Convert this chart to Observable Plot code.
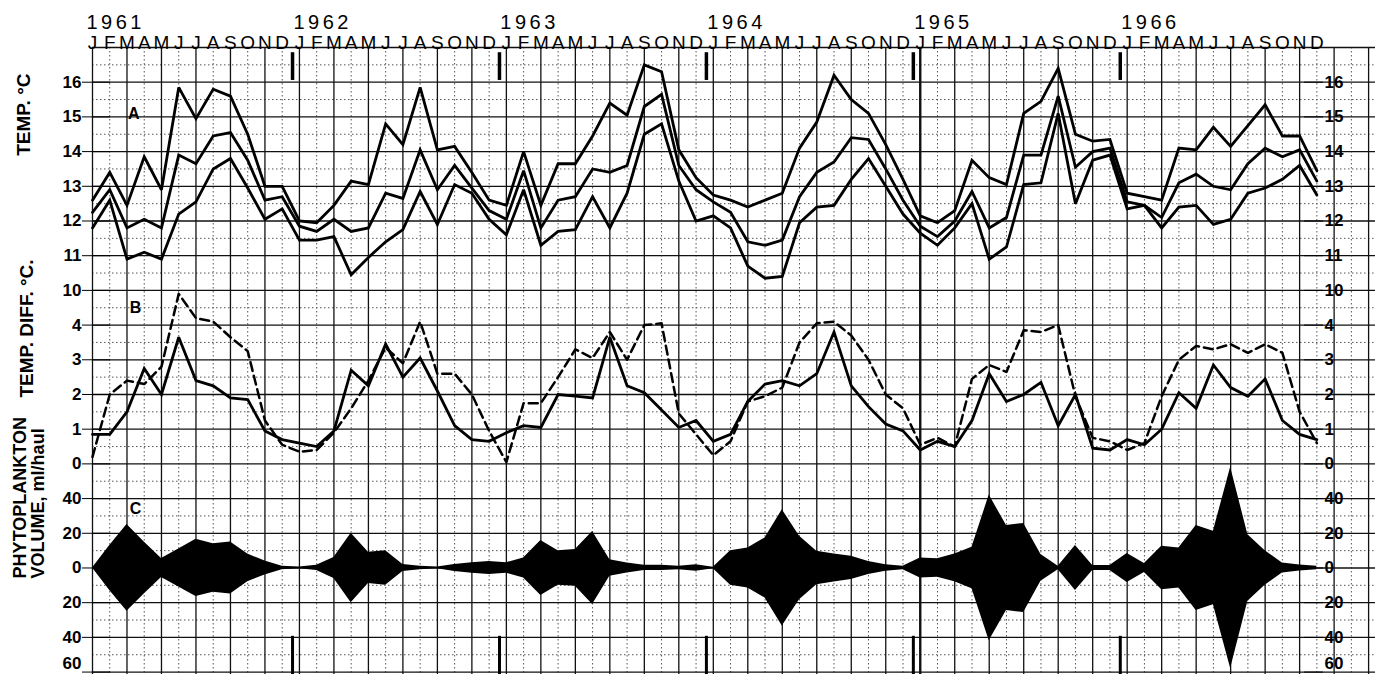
<!DOCTYPE html>
<html><head><meta charset="utf-8">
<script src="https://cdn.jsdelivr.net/npm/d3@7"></script>
<script src="https://cdn.jsdelivr.net/npm/@observablehq/plot@0.6"></script>
<style>
html,body{margin:0;padding:0;background:#fff;}
#chart{width:1375px;height:674px;overflow:hidden;}
</style></head><body><div id="chart"></div>
<script>
// ---- data ----
const monthLetters = ["J","F","M","A","M","J","J","A","S","O","N","D"];
const years = [1961, 1962, 1963, 1964, 1965, 1966];

// Panel A: temperature °C, three series (upper, middle, lower)
const tempTop = [
  12.6, 13.4, 12.45, 13.85, 12.9, 15.85, 14.95, 15.8, 15.6, 14.5, 13.0, 13.0,
  12.0, 11.95, 12.45, 13.15, 13.05, 14.8, 14.2, 15.85, 14.05, 14.15, 13.4, 12.6,
  12.45, 14.0, 12.45, 13.65, 13.65, 14.45, 15.4, 15.05, 16.5, 16.3, 14.05, 13.25,
  12.75, 12.6, 12.4, 12.6, 12.8, 14.1, 14.85, 16.2, 15.5, 15.1, 14.2, 13.2,
  12.15, 11.95, 12.3, 13.75, 13.25, 13.05, 15.1, 15.45, 16.4, 14.5, 14.3, 14.35,
  12.8, 12.7, 12.6, 14.1, 14.05, 14.7, 14.15, 14.75, 15.35, 14.45, 14.45, 13.45
];
const tempMid = [
  12.25, 12.9, 11.8, 12.05, 11.8, 13.9, 13.65, 14.45, 14.55, 13.75, 12.6, 12.7,
  11.85, 11.7, 12.05, 11.7, 11.8, 12.8, 12.65, 14.05, 12.9, 13.6, 12.95, 12.3,
  12.05, 13.45, 11.8, 12.6, 12.7, 13.5, 13.4, 13.6, 15.3, 15.65, 13.6, 12.9,
  12.55, 12.25, 11.4, 11.3, 11.45, 12.7, 13.4, 13.7, 14.4, 14.35, 13.5, 12.6,
  11.85, 11.55, 12.0, 12.85, 11.8, 12.1, 13.9, 13.9, 15.6, 13.55, 14.0, 14.1,
  12.55, 12.45, 12.1, 13.1, 13.35, 13.0, 12.9, 13.65, 14.1, 13.85, 14.05, 13.15
];
const tempLow = [
  11.8, 12.6, 10.9, 11.1, 10.9, 12.2, 12.55, 13.5, 13.8, 12.95, 12.05, 12.35,
  11.45, 11.45, 11.55, 10.45, 10.95, 11.4, 11.75, 12.85, 11.9, 13.05, 12.8, 12.05,
  11.6, 12.9, 11.3, 11.7, 11.75, 12.7, 11.8, 12.8, 14.5, 14.8, 13.15, 12.0,
  12.15, 11.8, 10.7, 10.35, 10.4, 11.95, 12.4, 12.45, 13.2, 13.8, 13.0, 12.2,
  11.65, 11.3, 11.8, 12.5, 10.9, 11.25, 13.05, 13.1, 15.1, 12.5, 13.75, 13.9,
  12.35, 12.45, 11.8, 12.4, 12.45, 11.9, 12.05, 12.8, 12.95, 13.2, 13.6, 12.75
];
// Panel B: temperature difference °C (solid and dashed)
const diffSolid = [
  0.85, 0.85, 1.5, 2.75, 2.0, 3.65, 2.4, 2.25, 1.9, 1.85, 0.95, 0.7,
  0.6, 0.5, 0.95, 2.7, 2.25, 3.45, 2.5, 3.05, 2.1, 1.1, 0.7, 0.65,
  0.9, 1.1, 1.05, 2.0, 1.95, 1.9, 3.65, 2.25, 2.05, 1.55, 1.05, 1.25,
  0.65, 0.85, 1.8, 2.3, 2.4, 2.25, 2.6, 3.8, 2.25, 1.65, 1.15, 0.95,
  0.4, 0.65, 0.5, 1.25, 2.6, 1.8, 2.0, 2.35, 1.1, 2.0, 0.45, 0.4,
  0.7, 0.55, 1.0, 2.05, 1.6, 2.85, 2.2, 1.95, 2.45, 1.25, 0.85, 0.7
];
const diffDashed = [
  0.2, 2.0, 2.4, 2.3, 2.8, 4.9, 4.2, 4.1, 3.65, 3.25, 1.25, 0.55,
  0.35, 0.4, 0.9, 1.6, 2.4, 3.35, 2.9, 4.1, 2.6, 2.6, 2.0, 0.95,
  0.05, 1.75, 1.75, 2.5, 3.3, 3.05, 3.8, 3.0, 4.0, 4.05, 1.45, 0.85,
  0.25, 0.65, 1.8, 1.95, 2.2, 3.5, 4.05, 4.1, 3.7, 3.0, 2.0, 1.6,
  0.55, 0.75, 0.5, 2.45, 2.85, 2.65, 3.85, 3.8, 4.0, 1.95, 0.75, 0.65,
  0.4, 0.6, 1.95, 3.0, 3.4, 3.3, 3.45, 3.2, 3.45, 3.2, 1.5, 0.6
];
// Panel C: phytoplankton volume, ml/haul (drawn symmetrically as a kite)
const phyto = [
  0, 13, 25, 15, 5.5, 11, 16.5, 14, 15, 8, 4, 1,
  0.5, 1.5, 6, 20, 9, 10, 2, 1, 0.5, 2, 3, 3.8,
  3, 5.8, 15.8, 10, 10.6, 21, 4.8, 2.9, 1.5, 1.5, 1, 1.9,
  0.4, 10, 11.5, 17.3, 33.5, 18.3, 9.6, 8.1, 6.7, 3.8, 1.9, 1,
  5.8, 5.3, 8, 12, 42, 24.5, 25.7, 7.7, 1, 13, 1.4, 1.4,
  8.4, 2.6, 12.5, 11.5, 24.5, 21.2, 58, 19.2, 10, 2.9, 1.7, 1
];
const tempTicks = [10, 11, 12, 13, 14, 15, 16];
const diffTicks = [0, 1, 2, 3, 4];
const phytoTicks = [40, 20, 0, -20, -40, -60];
const phytoEdgeLabel = [-60];
const yearBreaks = [11.6, 23.6, 35.6, 47.6, 59.6];

// ---- shared vertical unit: panel B as is, A shifted by 5 °C, C scaled 20 ml per unit around -3 ----
const toA = t => t - 5;
const toC = p => -3 + p / 20;
const fromC = v => String(Math.round(Math.abs((v + 3) * 20)));
const fromCInner = v => (Math.abs(v - toC(-60)) < 1e-6 ? "" : fromC(v));
const monthIndex = d3.range(72);
const rows = monthIndex.map(i => ({
  m: i,
  top: toA(tempTop[i]), mid: toA(tempMid[i]), low: toA(tempLow[i]),
  ds: diffSolid[i], dd: diffDashed[i],
  p1: toC(-phyto[i]), p2: toC(phyto[i])
}));

const FONT = "'Liberation Sans', Arial, Helvetica, sans-serif";
const majorV = d3.range(0, 75, 2);
const minorV = d3.range(1, 75, 2);
const majorH = d3.range(-6, 13, 1);
const minorH = d3.range(-5.5, 12, 1);

const yl = {fontSize: 17, fontWeight: "bold", fill: "black", anchor: "left", dx: 18, tickSize: 28, tickPadding: 1};
const yr = {fontSize: 17, fontWeight: "bold", fill: "black", anchor: "right", dx: -72, tickSize: 19, tickPadding: 2};
const lineOpts = {x: "m", stroke: "black", strokeWidth: 2.8, strokeLinejoin: "miter", strokeMiterlimit: 3};

const chart = Plot.plot({
  width: 1375, height: 674,
  marginLeft: 92, marginRight: 0, marginTop: 47, marginBottom: 0,
  x: {type: "linear", domain: [0, 74.4]},
  y: {type: "linear", domain: [-6.07, 12]},
  style: {background: "white", fontFamily: FONT, color: "black", overflow: "visible", fontSize: "17px"},
  marks: [
    // graph paper
    Plot.ruleX(minorV, {stroke: "#555", strokeWidth: 1, strokeDasharray: "1.5,2.5"}),
    Plot.ruleY(minorH, {stroke: "#555", strokeWidth: 1, strokeDasharray: "1.5,2.5"}),
    Plot.ruleX(majorV, {stroke: "#111", strokeWidth: d => d === 48 ? 2.4 : 1.3}),
    Plot.ruleY(majorH, {stroke: "#111", strokeWidth: 1.3}),
    // year break markers
    Plot.ruleX(yearBreaks, {y1: 11.05, y2: 11.85, stroke: "black", strokeWidth: 3.5}),
    Plot.ruleX(yearBreaks, {y1: -6.07, y2: -4.97, stroke: "black", strokeWidth: 3}),
    // panel C kite
    Plot.areaY(rows, {x: "m", y1: "p1", y2: "p2", fill: "black", curve: "linear"}),
    // panel A
    Plot.line(rows, {...lineOpts, y: "top"}),
    Plot.line(rows, {...lineOpts, y: "mid"}),
    Plot.line(rows, {...lineOpts, y: "low"}),
    // panel B
    Plot.line(rows, {...lineOpts, y: "ds"}),
    Plot.line(rows, {x: "m", y: "dd", stroke: "black", strokeWidth: 2.5, strokeDasharray: "9,5"}),
    // left axes
    Plot.axisY(tempTicks.map(toA), {...yl, tickFormat: v => String(v + 5)}),
    Plot.axisY(diffTicks, {...yl, tickFormat: v => String(v)}),
    Plot.axisY(phytoTicks.map(toC), {...yl, tickFormat: fromCInner}),
    Plot.axisY(phytoEdgeLabel.map(toC), {...yl, tickSize: 0, tickPadding: 29, tickFormat: fromC, dy: -9}),
    // right axes
    Plot.axisY(tempTicks.map(toA), {...yr, tickFormat: v => String(v + 5)}),
    Plot.axisY(diffTicks, {...yr, tickFormat: v => String(v)}),
    Plot.axisY(phytoTicks.map(toC), {...yr, tickFormat: fromCInner}),
    Plot.axisY(phytoEdgeLabel.map(toC), {...yr, tickSize: 0, tickPadding: 21, tickFormat: fromC, dy: -9}),
    // top axes: month letters and years
    Plot.axisX(monthIndex, {anchor: "top", tickSize: 0, tickPadding: -1, fontSize: 19, tickFormat: i => monthLetters[i % 12], fill: "black"}),
    Plot.axisX(years.map((y, k) => k * 12), {anchor: "top", tickSize: 0, tickPadding: 19, fontSize: 20, textAnchor: "start", dx: -6, tickFormat: i => String(years[i / 12]), fill: "black"}),
    // panel letters
    Plot.text([{t: "A", x: 2.4, y: 10.1}, {t: "B", x: 2.5, y: 4.5}, {t: "C", x: 2.5, y: -1.3}],
      {x: "x", y: "y", text: "t", fontSize: 16, fontWeight: "bold", fill: "black"}),
    // axis titles (rotated)
    Plot.text(["TEMP. °C"], {frameAnchor: "left", y: () => 8.88, dx: -69, rotate: -90, fontSize: 19, fontWeight: "bold", fill: "black"}),
    Plot.text(["TEMP. DIFF. °C."], {frameAnchor: "left", y: () => 1.91, dx: -66, rotate: -90, fontSize: 19, fontWeight: "bold", fill: "black"}),
    Plot.text(["PHYTOPLANKTON\nVOLUME, ml/haul"], {frameAnchor: "left", y: () => -3.3, dx: -63, rotate: -90, fontSize: 18, fontWeight: "bold", lineHeight: 0.95, fill: "black"})
  ]
});

// make sure axis label sizes are applied
const svg = d3.select(chart);
svg.selectAll('g[aria-label="x-axis tick label"] text').each(function() {
  const s = d3.select(this);
  if (/^19\d\d$/.test(this.textContent)) s.style("font-size", "20px").style("letter-spacing", "3.5px");
  else s.style("font-size", "19px");
});
svg.selectAll('g[aria-label="y-axis tick label"] text').style("font-size", "17px").style("font-weight", "bold");
document.getElementById("chart").appendChild(chart);
</script>
</body></html>
